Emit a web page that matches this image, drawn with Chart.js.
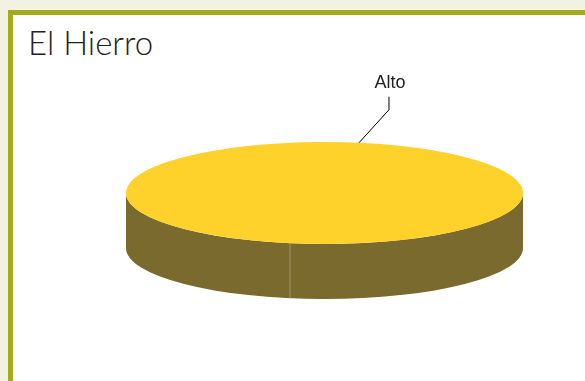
<!DOCTYPE html>
<html>
<head>
<meta charset="utf-8">
<script src="https://cdn.jsdelivr.net/npm/chart.js"></script>
<style>
  html, body { margin: 0; padding: 0; }
  body { width: 585px; height: 381px; background: #f1f2e1; position: relative; overflow: hidden; }
  #frame {
    position: absolute; left: 8px; top: 10px; right: 0; bottom: 0;
    background: #ffffff;
    border-top: 5px solid #a3ab1c;
    border-left: 5px solid #a3ab1c;
  }
  #title {
    position: absolute; left: 28px; top: 26px;
    font-family: Lato, "Open Sans", sans-serif; font-weight: 300;
    font-size: 33px; line-height: 1; color: #222222;
  }
  #wrap { position: absolute; left: 0; top: 0; width: 585px; height: 381px; }
</style>
</head>
<body>
<div id="frame"></div>
<div id="title">El Hierro</div>
<div id="wrap"><canvas id="pieChart" width="585" height="381"></canvas></div>
<script>
const labels = ['Alto'];
const values = [100];
const topColors = ['#fed22a'];
const sideColors = ['#7a6a2d'];

const tilt = 51 / 198.5;   // vertical squash of the disc
const depth = 55;          // height of the side wall

// draws the 3D side wall, squashes the pie, then adds the label
const pie3d = {
    id: 'pie3d',
    beforeDatasetsDraw(chart) {
        const ctx = chart.ctx;
        const arc = chart.getDatasetMeta(0).data[0];
        const cx = arc.x, cy = arc.y;
        const rx = arc.outerRadius, ry = rx * tilt;

        ctx.save();
        ctx.fillStyle = sideColors[0];
        ctx.beginPath();
        ctx.ellipse(cx, cy, rx, ry, 0, 0, Math.PI);
        ctx.ellipse(cx, cy + depth, rx, ry, 0, Math.PI, 0, true);
        ctx.closePath();
        ctx.fill();

        // seam where the slice starts
        const a = arc.startAngle;
        if (Math.sin(a) > 0) {
            const sx = cx + rx * Math.cos(a);
            const sy = cy + ry * Math.sin(a);
            ctx.strokeStyle = '#a0946a';
            ctx.lineWidth = 1;
            ctx.beginPath();
            ctx.moveTo(sx, sy);
            ctx.lineTo(sx, sy + depth);
            ctx.stroke();
        }

        ctx.translate(cx, cy);
        ctx.scale(1, tilt);
        ctx.translate(-cx, -cy);
    },
    afterDatasetsDraw(chart) {
        const ctx = chart.ctx;
        ctx.restore();

        const arc = chart.getDatasetMeta(0).data[0];
        const cx = arc.x, cy = arc.y;
        const rx = arc.outerRadius, ry = rx * tilt;
        const mid = (arc.startAngle + arc.endAngle) / 2;
        const px = cx + rx * Math.cos(mid);
        const py = cy + ry * Math.sin(mid);
        const ex = px + 30, ey = py - 33;

        ctx.save();
        ctx.strokeStyle = '#000000';
        ctx.lineWidth = 1;
        ctx.beginPath();
        ctx.moveTo(px, py);
        ctx.lineTo(ex, ey);
        ctx.lineTo(ex, ey - 13);
        ctx.stroke();

        ctx.fillStyle = '#222222';
        ctx.font = '18px "Liberation Sans", Arial, sans-serif';
        ctx.textAlign = 'center';
        ctx.textBaseline = 'alphabetic';
        ctx.fillText(labels[0], ex + 1, ey - 22);
        ctx.restore();
    }
};

const ctx = document.getElementById('pieChart').getContext('2d');
new Chart(ctx, {
    type: 'pie',
    data: {
        labels: labels,
        datasets: [{
            data: values,
            backgroundColor: topColors,
            borderWidth: 0,
            clip: false
        }]
    },
    options: {
        responsive: false,
        animation: false,
        rotation: 190,
        radius: 198.5,
        layout: { padding: { left: 64, right: 0, top: 5, bottom: 0 } },
        plugins: {
            legend: { display: false },
            tooltip: { enabled: false },
            title: { display: false }
        }
    },
    plugins: [pie3d]
});
</script>
</body>
</html>
